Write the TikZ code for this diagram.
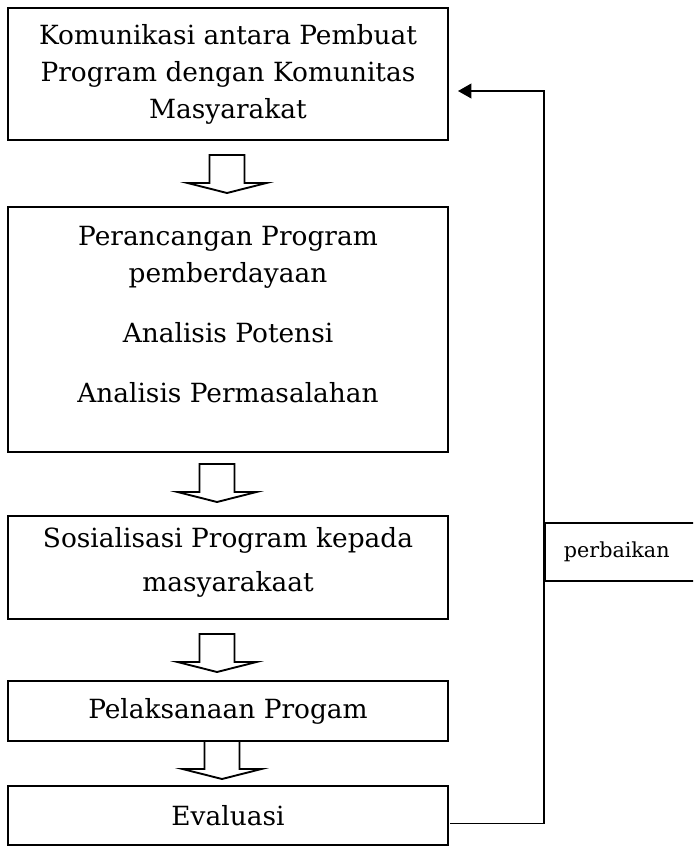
\documentclass[tikz,border=0pt]{standalone}
\usepackage{fontspec}
\setmainfont{DejaVu Serif}
\usetikzlibrary{arrows.meta,positioning,calc}

% panah blok ke bawah, #1 = tengah atas batang
\newcommand{\panahblok}[1]{%
  \draw[block arrow] #1 ++(-17.5,0) -- ++(0,28) -- ++(-22,0) -- ++(39.5,10)
    -- ++(39.5,-10) -- ++(-22,0) -- ++(0,-28) -- cycle;}

\begin{document}
\begin{tikzpicture}[x=0.75pt,y=-0.75pt,line width=1.4pt,
	box node/.style={rectangle,draw,minimum width=330pt,inner sep=0pt,outer sep=0pt,
		align=center,font=\fontsize{19.8}{27.75}\selectfont},
	box text/.style={anchor=north,inner sep=0pt,align=center,
		font=\fontsize{19.8}{27.75}\selectfont},
	block arrow/.style={fill=white,line join=miter},
	feedback/.style={-{Triangle[length=10pt,width=11pt]}}]
	
	\path[use as bounding box,clip] (0,0) rectangle (693,846);
	
	\node[box node,minimum height=99pt] (0) at (228,74) {Komunikasi antara Pembuat\\Program dengan Komunitas\\Masyarakat};
	\node[box node,minimum height=183.75pt] (1) [below=50.25pt of 0] {};
	\node[box node,minimum height=77.25pt] (2) [below=48pt of 1] {};
	\node[box node,minimum height=45pt] (3) [below=46.5pt of 2] {Pelaksanaan Progam};
	\node[box node,minimum height=44.25pt] (4) [below=33.75pt of 3] {Evaluasi};
	
	\node[box text] (1t) at ($(1.north)+(0,18)$) {Perancangan Program\\pemberdayaan\\[17.25pt]Analisis Potensi\\[17.25pt]Analisis Permasalahan};
	\node[box text,font=\fontsize{19.8}{33}\selectfont] (2t) at ($(2.north)+(0,11)$) {Sosialisasi Program kepada\\masyarakaat};
	
	\panahblok{($(0.south)+(-1,15)$)}
	\panahblok{($(1.south)+(-11,12)$)}
	\panahblok{($(2.south)+(-11,15)$)}
	\panahblok{($(3.south)+(-6,0)$)}
	
	\node[draw,anchor=west,inner xsep=14.25pt,text width=91.5pt,align=left,
	minimum height=43.5pt,font=\fontsize{15.5}{18}\selectfont] (5) at (544,552) {perbaikan};
	
	\draw[feedback] ($(4.east)+(2,8)$) -| ($(0.east)+(96,17)$) -- ($(0.east)+(10,17)$);
\end{tikzpicture}
\end{document}
